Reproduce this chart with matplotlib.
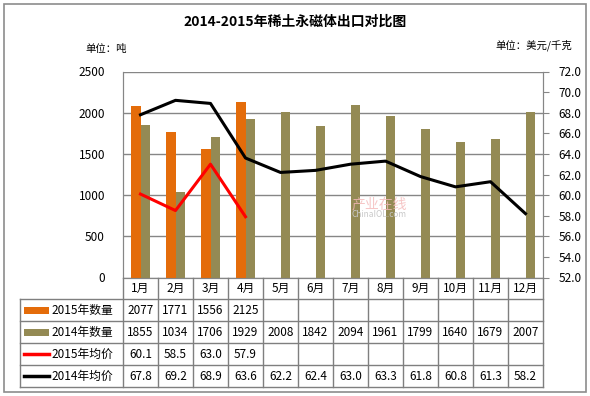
import matplotlib
matplotlib.use("Agg")
import matplotlib.pyplot as plt
from matplotlib.patches import Rectangle
from matplotlib.lines import Line2D

plt.rcParams['font.family'] = ['Noto Sans CJK SC', 'DejaVu Sans']

months = ['1月', '2月', '3月', '4月', '5月', '6月', '7月', '8月', '9月', '10月', '11月', '12月']
qty_2015 = [2077, 1771, 1556, 2125]
qty_2014 = [1855, 1034, 1706, 1929, 2008, 1842, 2094, 1961, 1799, 1640, 1679, 2007]
price_2015 = [60.1, 58.5, 63.0, 57.9]
price_2014 = [67.8, 69.2, 68.9, 63.6, 62.2, 62.4, 63.0, 63.3, 61.8, 60.8, 61.3, 58.2]
series_names = ['2015年数量', '2014年数量', '2015年均价', '2014年均价']

c_or = '#E46C0A'
c_ol = '#948A54'
c_red = '#FF0000'
c_blk = '#000000'
grid_c = '#868686'

W, H = 590, 396
fig = plt.figure(figsize=(W / 100, H / 100), dpi=100)

def fx(px):
    return px / W

def fy(py):
    return 1 - py / H

# outer frame
fig.patches.append(Rectangle((fx(4), fy(392)), fx(582), (388) / H, transform=fig.transFigure,
                             fill=False, edgecolor='#8c8c8c', lw=1.2))

L, R, T, B = 123, 543, 71.5, 277.5
ax = fig.add_axes([fx(L), fy(B), (R - L) / W, (B - T) / H])
n = len(months)
x = list(range(n))
bw = 0.28
ax.bar([i - bw / 2 for i in range(len(qty_2015))], qty_2015, width=bw, color=c_or, zorder=3)
ax.bar([i + bw / 2 for i in range(n)], qty_2014, width=bw, color=c_ol, zorder=3)
ax.set_xlim(-0.5, n - 0.5)
ax.set_ylim(0, 2500)
ax.set_yticks(range(0, 2501, 500))
ax.yaxis.grid(True, color=grid_c, lw=1, zorder=0)
ax.set_xticks([])
for s in ['top']:
    ax.spines[s].set_visible(False)
for s in ['left', 'right', 'bottom']:
    ax.spines[s].set_color(grid_c)
ax.tick_params(axis='y', labelsize=8.5, length=0, color=grid_c, pad=13)

ax2 = ax.twinx()
ax2.plot(range(len(price_2015)), price_2015, color=c_red, lw=2.2, zorder=5)
ax2.plot(x, price_2014, color=c_blk, lw=2.2, zorder=5)
ax2.set_ylim(52, 72)
ax2.set_yticks([52 + 2 * k for k in range(11)])
ax2.set_yticklabels([f'{52 + 2 * k:.1f}' for k in range(11)])
ax2.tick_params(axis='y', labelsize=8.5, length=4, color=grid_c, pad=7)
for s in ['top']:
    ax2.spines[s].set_visible(False)
for s in ['left', 'right', 'bottom']:
    ax2.spines[s].set_color(grid_c)

# watermark
fig.text(fx(352), fy(204), '产业在线', fontsize=10, color='#f4b8b8', alpha=0.8, ha='left', va='center')
fig.text(fx(352), fy(214), 'ChinaIOL.com', fontsize=6, color='#c8c8c8', ha='left', va='center')

# titles
fig.text(0.5, fy(22), '2014-2015年稀土永磁体出口对比图', ha='center', va='center',
         fontsize=10, fontweight='bold')
fig.text(fx(85), fy(49), '单位：吨', ha='left', va='center', fontsize=7.5)
fig.text(fx(572), fy(45), '单位：美元/千克', ha='right', va='center', fontsize=7.5)

# data table
tx0 = 20
rows_y = [277.5, 299, 321, 343, 365, 387]
slot = (R - L) / n
tax = fig.add_axes([0, 0, 1, 1])
tax.set_xlim(0, W)
tax.set_ylim(H, 0)
tax.axis('off')
lc = '#7f7f7f'
for yy in rows_y[1:]:
    tax.add_line(Line2D([tx0, R], [yy, yy], color=lc, lw=1))
tax.add_line(Line2D([tx0, tx0], [rows_y[1], rows_y[-1]], color=lc, lw=1))
for i in range(n + 1):
    xx = L + i * slot
    tax.add_line(Line2D([xx, xx], [rows_y[0], rows_y[-1]], color=lc, lw=1))

fs = 8.5
for i, m in enumerate(months):
    tax.text(L + (i + 0.5) * slot, (rows_y[0] + rows_y[1]) / 2 + 0.5, m, ha='center', va='center', fontsize=fs)

table_rows = [
    [str(v) for v in qty_2015],
    [str(v) for v in qty_2014],
    [f'{v:.1f}' for v in price_2015],
    [f'{v:.1f}' for v in price_2014],
]
keys = [('bar', c_or), ('bar', c_ol), ('line', c_red), ('line', c_blk)]
for r in range(4):
    yc = (rows_y[r + 1] + rows_y[r + 2]) / 2
    kind, col = keys[r]
    if kind == 'bar':
        tax.add_patch(Rectangle((24, yc - 3.5), 25, 7, color=col, lw=0))
    else:
        tax.add_line(Line2D([24, 49], [yc, yc], color=col, lw=2.5))
    tax.text(51, yc + 0.5, series_names[r], ha='left', va='center', fontsize=fs)
    for i, v in enumerate(table_rows[r]):
        tax.text(L + (i + 0.5) * slot, yc + 0.5, v, ha='center', va='center', fontsize=fs)

fig.savefig('out.png', dpi=100)
